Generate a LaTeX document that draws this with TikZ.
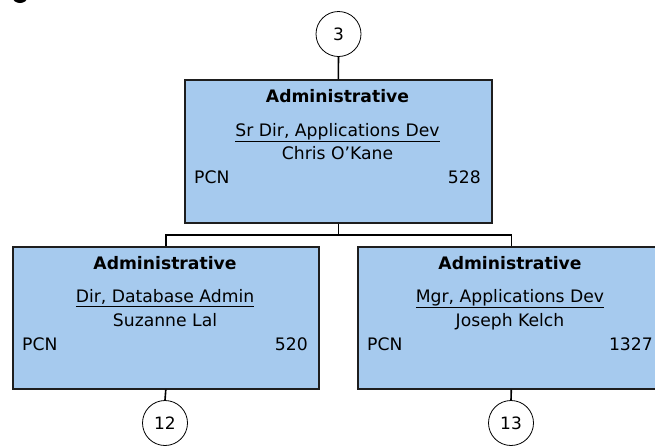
\documentclass[tikz,border=0pt]{standalone}
\usepackage{fontspec}
\setmainfont{DejaVu Sans}[Ligatures=ResetAll]
\definecolor{boxblue}{RGB}{166,202,238}
\definecolor{edge}{RGB}{30,30,30}
\begin{document}
\begin{tikzpicture}[x=1pt,y=-1pt,
  box/.style={draw=edge, line width=1.6pt, fill=boxblue, minimum width=306pt, minimum height=142pt, inner sep=0pt, anchor=north west},
  circ/.style={circle, draw=black, line width=0.8pt, fill=white, minimum size=45pt, inner sep=0pt, font=\fontsize{17}{19}\selectfont},
  conn/.style={draw=black, line width=1.6pt},
  txt/.style={anchor=base, inner sep=0pt, font=\fontsize{17.2}{19}\selectfont},
  head/.style={txt, font=\fontsize{17.2}{19}\selectfont\bfseries},
  lft/.style={txt, anchor=base west},
  rgt/.style={txt, anchor=base east}]
\useasboundingbox (0,0) rectangle (655,445);
\clip (0,0) rectangle (655,445);
% partial black shape at top-left
\fill[black] (20,-3) ellipse [x radius=7.5pt, y radius=6pt];
% boxes
\node[box, minimum width=307pt, minimum height=143pt] (top) at (184,79) {};
\node[box] (left) at (12,246) {};
\node[box, minimum width=307pt] (right) at (357,246) {};
% circles
\node[circ] (c3) at (338.5,34) {3};
\node[circ] (c12) at (165,423) {12};
\node[circ] (c13) at (511,423) {13};
% connectors
\coordinate (j) at (top.south |- 0,235);
\draw[conn] (c3.south) -- (top.north);
\draw[conn] (top.south) -- (j);
\draw[conn] (left.north) |- (j) -| (right.north);
\draw[conn] (left.south) -- (c12.north);
\draw[conn] (right.south) -- (c13.north);
% top box text
\node[head] (t1) at (337.5,102) {Administrative};
\node[txt] (t2) at (337.5,136) {\underline{Sr Dir, Applications Dev}};
\node[txt] (t3) at (337.5,159) {Chris O'Kane};
\node[lft] (t4) at (194,183) {PCN};
\node[rgt] (t5) at (481,183) {528};
% left box text
\node[head] (l1) at (165,269) {Administrative};
\node[txt] (l2) at (165,302.5) {\underline{Dir, Database Admin}};
\node[txt] (l3) at (165,326.5) {Suzanne Lal};
\node[lft] (l4) at (22,350.5) {PCN};
\node[rgt] (l5) at (308,350.5) {520};
% right box text
\node[head] (r1) at (510,269) {Administrative};
\node[txt] (r2) at (510,302.5) {\underline{Mgr, Applications Dev}};
\node[txt] (r3) at (510,326.5) {Joseph Kelch};
\node[lft] (r4) at (367,350.5) {PCN};
\node[rgt] (r5) at (653,350.5) {1327};
\end{tikzpicture}
\end{document}
